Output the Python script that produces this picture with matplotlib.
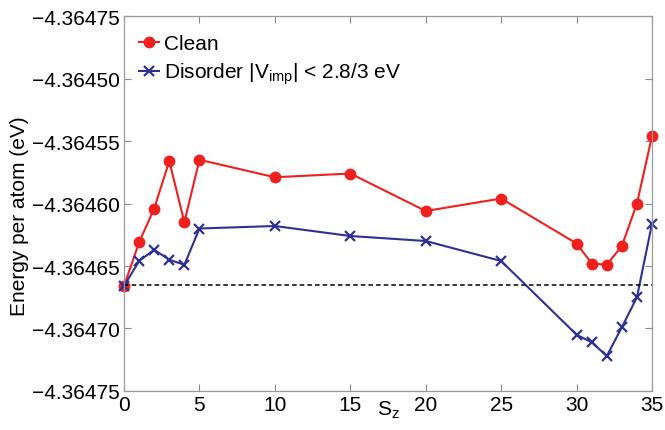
import numpy as np
import matplotlib
matplotlib.use('Agg')
import matplotlib.pyplot as plt

# values
sz = [0, 1, 2, 3, 4, 5, 10, 15, 20, 25, 30, 31, 32, 33, 34, 35]
clean = [-4.364666, -4.364631, -4.364604, -4.364566, -4.364615, -4.364565,
         -4.364579, -4.364576, -4.364606, -4.364596, -4.364632, -4.364648,
         -4.364649, -4.364634, -4.364600, -4.364546]
disorder = [-4.364666, -4.364646, -4.364637, -4.364645, -4.364649, -4.364620,
            -4.364618, -4.364626, -4.364630, -4.364646, -4.364705, -4.364711,
            -4.364722, -4.364699, -4.364675, -4.364616]
ref_level = -4.364665

x_ticks = [0, 5, 10, 15, 20, 25, 30, 35]
y_ticks = [-4.36475, -4.36470, -4.36465, -4.36460, -4.36455, -4.36450, -4.36445]
# the original figure shows a wrong label on the top tick, keep it as is
y_tick_labels = ['\u22124.36475', '\u22124.36470', '\u22124.36465', '\u22124.36460',
                 '\u22124.36455', '\u22124.36450', '\u22124.36475']

plt.rcParams['font.family'] = ['Liberation Sans', 'DejaVu Sans']
plt.rcParams['mathtext.fontset'] = 'custom'
plt.rcParams['mathtext.rm'] = 'Liberation Sans'
plt.rcParams['mathtext.it'] = 'Liberation Sans'

red = '#f0201e'
blue = '#2e3192'

fig = plt.figure(figsize=(6.65, 4.31), dpi=100)
ax = fig.add_axes([0.1865, 0.0905, 0.794, 0.870])

ax.plot(sz, clean, color=red, lw=1.5, marker='o', ms=7.5, mec=red, mfc=red,
        label='Clean', clip_on=False)
ax.plot(sz, disorder, color=blue, lw=1.5, marker='x', ms=7, mew=1.6,
        label=r'Disorder |V$_{\rm imp}$| < 2.8/3 eV', clip_on=False)
ax.plot([sz[0], sz[-1]], [ref_level, ref_level], color='black', lw=1.1, ls=(0, (3, 2)))

ax.set_xlim(0, 35)
ax.set_ylim(-4.36475, -4.36445)
ax.set_xticks(x_ticks)
ax.set_xticklabels([str(v) for v in x_ticks])
ax.set_yticks(y_ticks)
ax.set_yticklabels(y_tick_labels)

ax.tick_params(direction='in', top=True, right=True, length=5, width=0.8,
               color='#888888', labelsize=15, pad=3)
for s in ax.spines.values():
    s.set_color('#999999')
    s.set_linewidth(0.9)

ax.set_xlabel(r'S$_{\rm z}$', fontsize=15)
ax.xaxis.set_label_coords(0.5, -0.02)
ax.set_ylabel('Energy per atom (eV)', fontsize=15)
ax.yaxis.set_label_coords(-0.18, 0.47)

leg = ax.legend(loc='upper left', frameon=False, fontsize=15, handlelength=1.0,
                handletextpad=0.2, borderaxespad=0.3, labelspacing=0.35,
                bbox_to_anchor=(0.0, 0.99))

fig.savefig('out.png', dpi=100)
